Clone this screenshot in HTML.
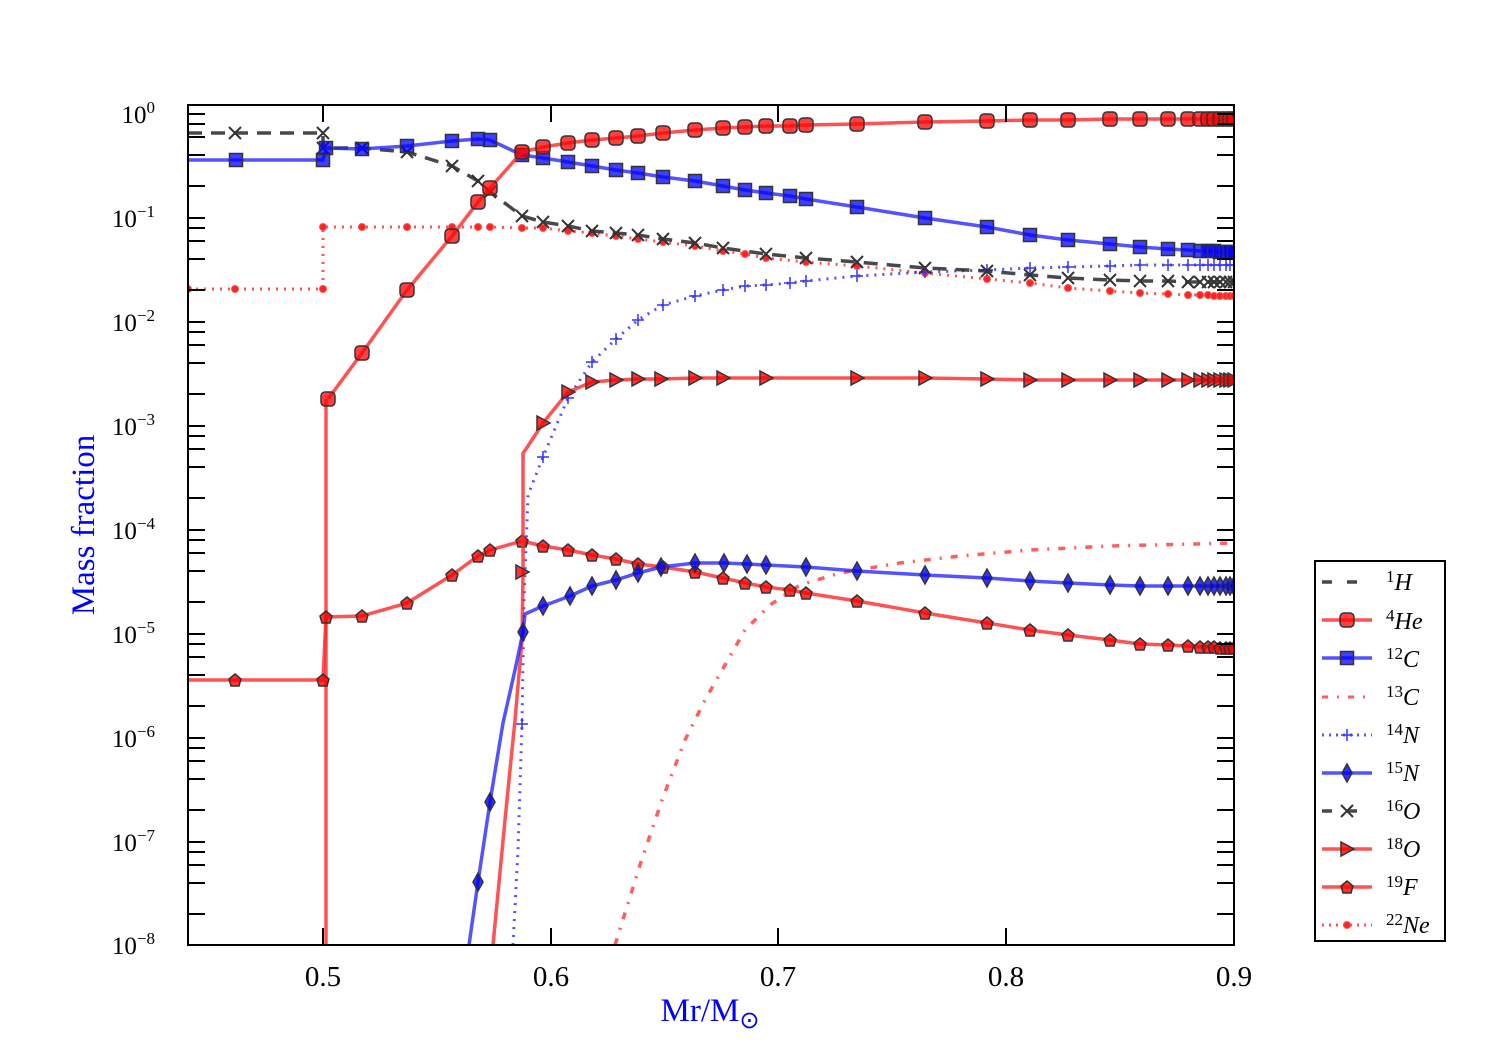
<!DOCTYPE html>
<html><head><meta charset="utf-8"><style>
html,body{margin:0;padding:0;background:#fff;}
svg{display:block;font-family:"Liberation Serif",serif;}
</style></head><body>
<svg width="1500" height="1050" viewBox="0 0 1500 1050" xmlns="http://www.w3.org/2000/svg">
<defs>
<marker id="mc" markerUnits="userSpaceOnUse" markerWidth="20" markerHeight="20" refX="10" refY="10" overflow="visible"><rect x="3" y="3" width="14" height="14" rx="4" fill="rgba(255,0,0,0.75)" stroke="#333" stroke-width="1.5"/></marker>
<marker id="ms" markerUnits="userSpaceOnUse" markerWidth="20" markerHeight="20" refX="10" refY="10" overflow="visible"><rect x="3.5" y="3.5" width="13" height="13" fill="rgba(0,0,255,0.75)" stroke="#333" stroke-width="1.5"/></marker>
<marker id="mx" markerUnits="userSpaceOnUse" markerWidth="20" markerHeight="20" refX="10" refY="10" overflow="visible"><path d="M4 4L16 16M16 4L4 16" stroke="#333" stroke-width="2"/></marker>
<marker id="mp" markerUnits="userSpaceOnUse" markerWidth="20" markerHeight="20" refX="10" refY="10" overflow="visible"><path d="M10 4L16 9L14 16L6 16L4 9Z" fill="rgba(255,0,0,0.8)" stroke="#333" stroke-width="1.5"/></marker>
<marker id="mt" markerUnits="userSpaceOnUse" markerWidth="20" markerHeight="20" refX="10" refY="10" overflow="visible"><path d="M4 3L17 10L4 17Z" fill="rgba(255,0,0,0.8)" stroke="#333" stroke-width="1.5"/></marker>
<marker id="md" markerUnits="userSpaceOnUse" markerWidth="20" markerHeight="20" refX="10" refY="10" overflow="visible"><path d="M10 1L15 10L10 19L5 10Z" fill="rgba(0,0,255,0.8)" stroke="#333" stroke-width="1.5"/></marker>
<marker id="mplus" markerUnits="userSpaceOnUse" markerWidth="20" markerHeight="20" refX="10" refY="10" overflow="visible"><path d="M4 10H16M10 4V16" stroke="#33f" stroke-width="1.5"/></marker>
<marker id="mdot" markerUnits="userSpaceOnUse" markerWidth="20" markerHeight="20" refX="10" refY="10" overflow="visible"><circle cx="10" cy="10" r="3.5" fill="#f22" stroke="#f55" stroke-width="1"/></marker>
<clipPath id="cp"><rect x="188" y="105" width="1046" height="840"/></clipPath>
</defs>

<g clip-path="url(#cp)" fill="none" stroke-linejoin="round">
<!-- 13C -->
<polyline points="615,945 640,865 662,800 685,740 705,700 725,665 745,630 770,605 800,585 840,573 900,563 960,556 1030,550 1110,546 1234,543" stroke="rgba(255,40,40,0.75)" stroke-width="3.5" stroke-dasharray="7,9,2,9"/>
<!-- 22Ne -->
<polyline points="188,289 235,289 323,289 323,227 362,227 407,227 452,227 478,227 490,227 522,228 543,228 568,231 592,233 616,236 638,239 663,242 695,246 723,251 745,254 766,258 806,262 857,266 925,273 987,279 1030,283 1068,288 1110,291 1140,293 1168,294 1188,295 1200,295 1208,295 1214,296 1220,296 1226,296 1230,296 1234,296" stroke="rgba(255,40,40,0.8)" stroke-width="3" stroke-dasharray="2,6" marker-start="url(#mdot)" marker-mid="url(#mdot)" marker-end="url(#mdot)"/>
<!-- 14N -->
<polyline points="513,945 518,850 522,724 524,600 528,495 543,457 568,398 592,362 616,339 638,320 663,305 695,296 723,290 745,286 766,285 790,283 806,281 857,276 925,272 987,270 1030,268 1068,267 1110,266 1140,265 1168,265 1188,265 1200,265 1208,265 1214,265 1220,265 1226,265 1230,265 1234,265" stroke="rgba(40,40,255,0.8)" stroke-width="3" stroke-dasharray="2,6"/>
<polyline points="522,724 543,457 568,398 592,362 616,339 638,320 663,305 695,296 723,290 745,286 766,285 790,283 806,281 857,276 925,272 987,270 1030,268 1068,267 1110,266 1140,265 1168,265 1188,265 1200,265 1208,265 1214,265 1220,265 1226,265 1230,265 1234,265" stroke="none" marker-start="url(#mplus)" marker-mid="url(#mplus)" marker-end="url(#mplus)"/>
<!-- 16O -->
<polyline points="188,133 235,133 323,133 323,148 362,148 407,152 452,166 478,181 490,192 522,216 543,222 568,226 592,231 616,233 638,235 663,239 695,243 723,248 766,254 806,258 857,262 925,268 987,271 1030,275 1068,278 1110,280 1140,281 1168,281 1188,282 1200,282 1208,282 1214,282 1220,282 1226,282 1230,282 1234,282" stroke="rgba(40,40,40,0.85)" stroke-width="3.5" stroke-dasharray="14,9" marker-mid="url(#mx)" marker-end="url(#mx)"/>
<!-- 12C -->
<polyline points="188,160 236,160 323,160 326,148 362,149 407,146 452,141 478,139 490,140 522,155 543,158 568,162 592,166 616,170 638,173 663,177 695,181 723,186 745,190 766,193 790,196 806,199 857,207 925,218 987,227 1030,235 1068,240 1110,244 1140,247 1168,249 1188,250 1200,251 1208,251 1214,251 1220,252 1226,252 1230,252 1234,252" stroke="rgba(40,40,255,0.8)" stroke-width="3.5" marker-mid="url(#ms)" marker-end="url(#ms)"/>
<!-- 4He -->
<polyline points="326,945 326,399" stroke="rgba(255,40,40,0.8)" stroke-width="3.5"/>
<polyline points="328,399 362,353 407,290 452,236 478,202 490,188 522,152 543,147 568,143 592,140 616,138 638,136 663,133 695,130 723,128 745,127 766,126 790,126 806,125 857,124 925,122 987,121 1030,120 1068,120 1110,119 1140,119 1168,119 1188,119 1200,119 1208,119 1214,119 1220,119 1226,119 1230,119 1234,119" stroke="rgba(255,40,40,0.8)" stroke-width="3.5" marker-start="url(#mc)" marker-mid="url(#mc)" marker-end="url(#mc)"/>
<!-- 19F -->
<polyline points="188,680 235,680 323,680 326,617 362,616 407,603 452,575 478,556 490,550 522,541 543,546 568,550 592,555 616,559 638,564 663,567 695,572 723,578 745,583 766,587 790,590 806,593 857,601 925,613 987,623 1030,630 1068,635 1110,640 1140,644 1168,645 1188,646 1200,647 1208,647 1214,647 1220,648 1226,648 1230,648 1234,648" stroke="rgba(255,40,40,0.8)" stroke-width="3.5" marker-mid="url(#mp)" marker-end="url(#mp)"/>
<!-- 18O -->
<polyline points="493,945 505,820 515,720 522,640 523,572 523,453 526,449 543,423 568,392 592,382 616,380 638,379 661,379 695,378 723,378 766,378 857,378 925,378 987,379 1030,380 1068,380 1110,380 1140,380 1168,380 1188,380 1200,380 1208,380 1214,380 1220,380 1226,380 1230,380 1234,380" stroke="rgba(255,40,40,0.8)" stroke-width="3.5"/>
<polyline points="522,572 543,423 568,392 592,382 616,380 638,379 661,379 695,378 723,378 766,378 857,378 925,378 987,379 1030,380 1068,380 1110,380 1140,380 1168,380 1188,380 1200,380 1208,380 1214,380 1220,380 1226,380 1230,380 1234,380" stroke="none" marker-start="url(#mt)" marker-mid="url(#mt)" marker-end="url(#mt)"/>
<!-- 15N -->
<polyline points="469,945 478,882 490,802 503,723 515,670 523,632 525,614 543,606 570,596 592,586 616,580 638,573 661,567 695,563 724,563 747,564 766,565 806,567 857,571 925,575 987,578 1030,581 1068,583 1110,585 1140,586 1168,586 1188,586 1200,586 1208,586 1214,586 1220,586 1226,586 1230,586 1234,586" stroke="rgba(40,40,255,0.8)" stroke-width="3.5"/>
<polyline points="478,882 490,802 523,632 543,606 570,596 592,586 616,580 638,573 661,567 695,563 724,563 747,564 766,565 806,567 857,571 925,575 987,578 1030,581 1068,583 1110,585 1140,586 1168,586 1188,586 1200,586 1208,586 1214,586 1220,586 1226,586 1230,586 1234,586" stroke="none" marker-start="url(#md)" marker-mid="url(#md)" marker-end="url(#md)"/>
</g>

<!-- axes -->
<rect x="188" y="105" width="1046" height="840" fill="none" stroke="#000" stroke-width="2"/>
<g stroke="#000" stroke-width="2">
<path d="M323 945v-17M551 945v-17M778 945v-17M1006 945v-17M323 105v17M551 105v17M778 105v17M1006 105v17"/>
<path id="yt" d="M188 114h17M188 218h17M188 322h17M188 426h17M188 530h17M188 634h17M188 738h17M188 842h17
M188 124h17M188 137h17M188 155h17M188 186h17
M188 228h17M188 241h17M188 259h17M188 290h17
M188 332h17M188 345h17M188 363h17M188 394h17
M188 436h17M188 449h17M188 467h17M188 498h17
M188 540h17M188 553h17M188 571h17M188 602h17
M188 644h17M188 657h17M188 675h17M188 706h17
M188 748h17M188 761h17M188 779h17M188 810h17
M188 852h17M188 865h17M188 883h17M188 914h17"/>
<use href="#yt" transform="translate(1422,0) scale(-1,1)"/>
</g>
<g font-size="25" text-anchor="end" fill="#000">
<text x="155" y="123">10<tspan font-size="17" dy="-10">0</tspan></text>
<text x="155" y="227">10<tspan font-size="17" dy="-10">−1</tspan></text>
<text x="155" y="331">10<tspan font-size="17" dy="-10">−2</tspan></text>
<text x="155" y="435">10<tspan font-size="17" dy="-10">−3</tspan></text>
<text x="155" y="539">10<tspan font-size="17" dy="-10">−4</tspan></text>
<text x="155" y="643">10<tspan font-size="17" dy="-10">−5</tspan></text>
<text x="155" y="747">10<tspan font-size="17" dy="-10">−6</tspan></text>
<text x="155" y="851">10<tspan font-size="17" dy="-10">−7</tspan></text>
<text x="155" y="954">10<tspan font-size="17" dy="-10">−8</tspan></text>
</g>
<g font-size="29" text-anchor="middle" fill="#000">
<text x="323" y="986">0.5</text><text x="551" y="986">0.6</text><text x="778" y="986">0.7</text><text x="1006" y="986">0.8</text><text x="1234" y="986">0.9</text>
</g>
<text x="710" y="1021" font-size="33" text-anchor="middle" fill="#00f">Mr/M<tspan font-size="24" dy="7">⊙</tspan></text>
<text transform="translate(94,525) rotate(-90)" font-size="33" text-anchor="middle" fill="#00f">Mass fraction</text>

<!-- legend -->
<rect x="1315" y="561" width="130" height="380" fill="#fff" stroke="#000" stroke-width="2"/>
<g fill="none">
<line x1="1322" y1="582" x2="1372" y2="582" stroke="rgba(40,40,40,0.85)" stroke-width="3.5" stroke-dasharray="10,15"/>
<polyline points="1322,620 1347,620 1372,620" stroke="rgba(255,40,40,0.8)" stroke-width="3.5" marker-mid="url(#mc)"/>
<polyline points="1322,658 1347,658 1372,658" stroke="rgba(40,40,255,0.8)" stroke-width="3.5" marker-mid="url(#ms)"/>
<line x1="1322" y1="697" x2="1372" y2="697" stroke="rgba(255,40,40,0.75)" stroke-width="3" stroke-dasharray="6,9,2,9"/>
<polyline points="1322,735 1347,735 1372,735" stroke="rgba(40,40,255,0.8)" stroke-width="3" stroke-dasharray="2,5" marker-mid="url(#mplus)"/>
<polyline points="1322,773 1347,773 1372,773" stroke="rgba(40,40,255,0.8)" stroke-width="3.5" marker-mid="url(#md)"/>
<polyline points="1322,811 1347,811 1372,811" stroke="rgba(40,40,40,0.85)" stroke-width="3.5" stroke-dasharray="10,15" marker-mid="url(#mx)"/>
<polyline points="1322,849 1347,849 1372,849" stroke="rgba(255,40,40,0.8)" stroke-width="3.5" marker-mid="url(#mt)"/>
<polyline points="1322,887 1347,887 1372,887" stroke="rgba(255,40,40,0.8)" stroke-width="3.5" marker-mid="url(#mp)"/>
<polyline points="1322,925 1347,925 1372,925" stroke="rgba(255,40,40,0.8)" stroke-width="3" stroke-dasharray="2,5" marker-mid="url(#mdot)"/>
</g>
<g font-size="24" font-style="italic" fill="#000">
<text x="1386" y="590"><tspan font-size="17" dy="-8" font-style="normal">1</tspan><tspan dy="8">H</tspan></text>
<text x="1386" y="629"><tspan font-size="17" dy="-8" font-style="normal">4</tspan><tspan dy="8">He</tspan></text>
<text x="1386" y="667"><tspan font-size="17" dy="-8" font-style="normal">12</tspan><tspan dy="8">C</tspan></text>
<text x="1386" y="705"><tspan font-size="17" dy="-8" font-style="normal">13</tspan><tspan dy="8">C</tspan></text>
<text x="1386" y="743"><tspan font-size="17" dy="-8" font-style="normal">14</tspan><tspan dy="8">N</tspan></text>
<text x="1386" y="781"><tspan font-size="17" dy="-8" font-style="normal">15</tspan><tspan dy="8">N</tspan></text>
<text x="1386" y="819"><tspan font-size="17" dy="-8" font-style="normal">16</tspan><tspan dy="8">O</tspan></text>
<text x="1386" y="857"><tspan font-size="17" dy="-8" font-style="normal">18</tspan><tspan dy="8">O</tspan></text>
<text x="1386" y="895"><tspan font-size="17" dy="-8" font-style="normal">19</tspan><tspan dy="8">F</tspan></text>
<text x="1386" y="933"><tspan font-size="17" dy="-8" font-style="normal">22</tspan><tspan dy="8">Ne</tspan></text>
</g>
</svg>
</body></html>
